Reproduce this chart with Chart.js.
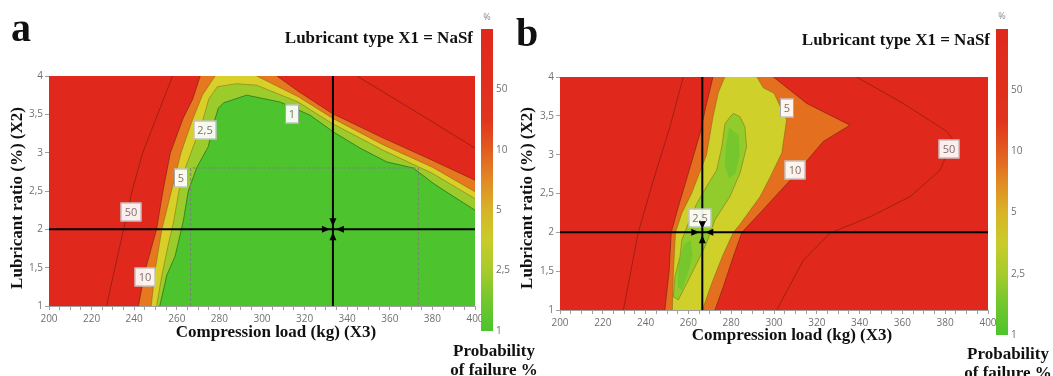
<!DOCTYPE html>
<html>
<head>
<meta charset="utf-8">
<script src="https://cdn.jsdelivr.net/npm/chart.js@4.4.1/dist/chart.umd.min.js"></script>
<style>
  body { margin: 0; width: 1053px; height: 376px; position: relative; overflow: hidden; background: #fff; }
  canvas { position: absolute; }
  .t { position: absolute; font-family: "Liberation Serif", "Times New Roman", serif; font-weight: bold; color: #111; white-space: nowrap; }
  .pct { position: absolute; font: 9px "Open Sans", sans-serif; color: #8a8a8a; transform: translateX(-50%); }
</style>
</head>
<body>
<canvas id="chartA" width="490" height="376" style="left:0;top:0"></canvas>
<canvas id="barA" width="45" height="340" style="left:478px;top:20px"></canvas>
<canvas id="chartB" width="490" height="376" style="left:510px;top:0"></canvas>
<canvas id="barB" width="60" height="340" style="left:993px;top:20px"></canvas>

<div class="t" style="left:11px;top:8px;font-size:40px;line-height:40px">a</div>
<div class="t" style="left:516px;top:13px;font-size:40px;line-height:40px">b</div>
<div class="t" style="right:580px;top:28px;font-size:17px;line-height:20px">Lubricant type X1 = NaSf</div>
<div class="t" style="right:63px;top:30px;font-size:17px;line-height:20px">Lubricant type X1 = NaSf</div>
<div class="t" style="left:17px;top:198px;font-size:17px;line-height:20px;transform:translate(-50%,-50%) rotate(-90deg)">Lubricant ratio (%) (X2)</div>
<div class="t" style="left:527px;top:198px;font-size:17px;line-height:20px;transform:translate(-50%,-50%) rotate(-90deg)">Lubricant ratio (%) (X2)</div>
<div class="t" style="left:276px;top:322px;font-size:17px;line-height:20px;transform:translateX(-50%)">Compression load (kg) (X3)</div>
<div class="t" style="left:792px;top:325px;font-size:17px;line-height:20px;transform:translateX(-50%)">Compression load (kg) (X3)</div>
<div class="t" style="left:494px;top:341px;font-size:17px;line-height:19px;text-align:center;transform:translateX(-50%)">Probability<br>of failure %</div>
<div class="t" style="left:1008px;top:344px;font-size:17px;line-height:19px;text-align:center;transform:translateX(-50%)">Probability<br>of failure %</div>
<div class="pct" style="left:487px;top:10px">%</div>
<div class="pct" style="left:1002px;top:9px">%</div>

<script>
// axes
const xRange = [200, 400];
const yRange = [1, 4];
const xMinorStep = 5;
const xTickLabels = [200, 220, 240, 260, 280, 300, 320, 340, 360, 380, 400];
const yTickLabels = ['1', '1,5', '2', '2,5', '3', '3,5', '4'];

// colour bar
const cbarLabels = ['1', '2,5', '5', '10', '50'];
const cbarPos = [0, 0.2, 0.4, 0.6, 0.8];

// panel a: iso-lines of probability of failure, [load kg, ratio %]
const aIso50L = [[227, 1], [231, 1.5], [235, 2], [239, 2.5], [244, 3], [251, 3.5], [258, 4]];
const aIso50R = [[344.5, 4], [372.5, 3.53], [400, 3.06]];
const aIso10L = [[242, 1], [245, 1.45], [250.5, 2], [253.5, 2.5], [257, 3], [263, 3.45], [267.5, 3.7], [271, 4]];
const aIso10R = [[307, 4], [317, 3.8], [333, 3.51], [357, 3.19], [380, 2.9], [400, 2.64]];
const aIso5L = [[248, 1], [250, 1.5], [253, 2], [257.5, 2.5], [262, 3], [267, 3.4], [272, 3.75], [278, 4]];
const aIso5R = [[297.5, 4], [317, 3.73], [333, 3.45], [357, 3.1], [380, 2.81], [400, 2.49]];
const aIso25 = [[250.5, 1], [253, 1.4], [256, 1.8], [258.5, 2.1], [261, 2.5], [264, 2.8], [268, 3.1], [272, 3.4], [275, 3.7],
  [279, 3.86], [288, 3.9], [297.5, 3.88], [317, 3.66], [333, 3.38], [357, 3.03], [380, 2.73], [400, 2.4]];
const aIso1 = [[252, 1], [255.3, 1.4], [259.2, 1.65], [263, 2.1], [265.4, 2.5], [269.3, 2.8], [274.8, 3.08], [277, 3.35],
  [279.5, 3.58], [282, 3.65], [292.8, 3.75], [308.5, 3.66], [322.5, 3.49], [333.5, 3.27], [346, 3.06], [358.5, 2.88],
  [371, 2.8], [380.4, 2.6], [389.8, 2.43], [400, 2.25]];
const aBox = [[266.5, 1], [266.5, 2.8], [373.4, 2.8], [373.4, 1]];
const aCross = [333.3, 2];
const aLabelText = ['50', '10', '5', '2,5', '1'];
const aLabelX = [238.5, 245.2, 261.8, 273.2, 314.2];
const aLabelY = [2.22, 1.38, 2.67, 3.29, 3.51];

// panel b
const bIso50L = [[229.6, 1], [236.6, 2], [243.6, 2.67], [251.4, 3.36], [257.6, 4]];
const bIso50R = [[338.6, 4], [360.4, 3.66], [380.7, 3.3], [383.6, 3.19], [377.6, 2.8], [363.6, 2.46], [344.9, 2.2],
  [326.2, 1.99], [313.7, 1.64], [301.3, 1]];
const bIso10L = [[249, 1], [251, 1.5], [252, 2], [255, 2.3], [259, 2.67], [265.4, 3.27], [268, 3.6], [271.5, 4]];
const bIso10R = [[299.7, 4], [315.3, 3.66], [335.5, 3.38], [323, 3.17], [307.5, 2.67], [293.5, 2.25], [285, 2],
  [281, 1.69], [276.3, 1.3], [272.4, 1]];
const bIso5L = [[252.5, 1], [253, 1.5], [254, 2], [257, 2.25], [261.5, 2.5], [265, 2.75], [268.5, 3], [271.6, 3.5], [274, 3.8], [277, 4]];
const bIso5R = [[292, 4], [295, 3.86], [300, 3.79], [305.9, 3.45], [303.6, 3.02], [298, 2.7], [293.5, 2.46], [284, 2.1],
  [281, 2], [276, 1.7], [271, 1.35], [266.5, 1]];
const bIso25 = [[280.2, 3.51], [277.1, 3.4], [275.6, 3.1], [273.2, 2.8], [268.5, 2.59], [263.9, 2.37], [260, 2.12],
  [256.9, 1.9], [256.1, 1.69], [253.7, 1.43], [253, 1.17], [255.3, 1.13], [259.2, 1.34], [263.9, 1.6], [268.5, 1.86],
  [272.4, 2.16], [279.4, 2.46], [284.1, 2.76], [287.2, 3.1], [286.4, 3.36], [284.1, 3.49], [281, 3.53]];
// brightest green spots inside the 2,5 iso-line
const bCoreUp = [[279, 3.35], [277.5, 3.1], [277, 2.85], [279, 2.7], [282, 2.75], [284, 3], [283.5, 3.25]];
const bCoreLow = [[255, 1.3], [255.5, 1.6], [258, 1.85], [261, 1.9], [262, 1.7], [259.5, 1.45], [257, 1.25]];
const bCross = [266.5, 2];
const bLabelText = ['2,5', '5', '10', '50'];
const bLabelX = [265.4, 305.9, 309.8, 381.9];
const bLabelY = [2.18, 3.6, 2.8, 3.07];

// colours
const RED = '#e0281d';
const cbarStops = [0, 0.1, 0.2, 0.3, 0.4, 0.5, 0.6, 0.7, 1];
const cbarColors = ['#4cc42e', '#72c72d', '#a6cb2c', '#c8cc2a', '#d8b427', '#e18a24', '#e25c20', '#e0341d', RED];
const lineRed = 'rgba(110,25,15,0.55)';
const lineMid = 'rgba(120,90,20,0.45)';
const lineGreen = 'rgba(40,110,30,0.75)';

const toPts = path => path.map(([x, y]) => ({ x, y }));
const corner = [[xRange[1], yRange[0]]];
const frame = [[xRange[0], yRange[0]], [xRange[1], yRange[0]], [xRange[1], yRange[1]], [xRange[0], yRange[1]]];

function area(path, color, order) {
  return { data: toPts(path), fill: 'shape', backgroundColor: color, borderColor: 'transparent', borderWidth: 0, pointRadius: 0, order };
}
function iso(path, color, order) {
  return { data: toPts(path), fill: false, borderColor: color, borderWidth: 1, pointRadius: 0, order };
}
function rule(path, color, width, dash, order) {
  return { data: toPts(path), fill: false, borderColor: color, borderWidth: width, borderDash: dash, pointRadius: 0, order };
}
function crossLines(c, order) {
  return [
    rule([[c[0], yRange[0]], [c[0], yRange[1]]], '#000', 2, [], order),
    rule([[xRange[0], c[1]], [xRange[1], c[1]]], '#000', 2, [], order)
  ];
}

// labels and crosshair arrows
const overlay = {
  id: 'overlay',
  afterDatasetsDraw(chart, args, opts) {
    const { ctx, scales: { x, y } } = chart;
    ctx.save();
    ctx.font = '11px "Open Sans", sans-serif';
    ctx.textAlign = 'center';
    ctx.textBaseline = 'middle';
    opts.text.forEach((t, i) => {
      const px = Math.round(x.getPixelForValue(opts.lx[i]));
      const py = Math.round(y.getPixelForValue(opts.ly[i]));
      const w = Math.round(ctx.measureText(t).width + 8), h = 19;
      ctx.fillStyle = 'rgba(255,255,255,0.92)';
      ctx.fillRect(px - w / 2, py - h / 2, w, h);
      ctx.strokeStyle = '#a8a8a8';
      ctx.lineWidth = 1;
      ctx.strokeRect(px - w / 2 + 0.5, py - h / 2 + 0.5, w - 1, h - 1);
      ctx.fillStyle = '#7f6f6f';
      ctx.fillText(t, px, py + 1);
    });
    const cx = x.getPixelForValue(opts.cross[0]);
    const cy = y.getPixelForValue(opts.cross[1]);
    ctx.fillStyle = '#000';
    [[0, -1], [0, 1], [-1, 0], [1, 0]].forEach(([dx, dy]) => {
      const tip = 3, base = 11, half = 3.5;
      ctx.beginPath();
      ctx.moveTo(cx + dx * tip, cy + dy * tip);
      ctx.lineTo(cx + dx * base + dy * half, cy + dy * base + dx * half);
      ctx.lineTo(cx + dx * base - dy * half, cy + dy * base - dx * half);
      ctx.closePath();
      ctx.fill();
    });
    ctx.restore();
  }
};

const tickFont = { family: '"Open Sans", sans-serif', size: 10 };

function makeChart(id, datasets, pad, yWidth, xHeight, ov) {
  return new Chart(document.getElementById(id), {
    type: 'line',
    data: { datasets },
    options: {
      responsive: false,
      animation: false,
      events: [],
      devicePixelRatio: 1,
      layout: { padding: pad },
      plugins: { legend: { display: false }, tooltip: { enabled: false }, overlay: ov },
      scales: {
        x: {
          type: 'linear', min: xRange[0], max: xRange[1],
          ticks: {
            stepSize: xMinorStep, autoSkip: false, maxRotation: 0, padding: 3, color: '#707070', font: tickFont,
            callback: v => xTickLabels.includes(v) ? String(v) : ''
          },
          grid: { drawOnChartArea: false, tickLength: 4, color: '#a0a0a0' },
          border: { color: '#a0a0a0' },
          afterFit: s => { s.height = xHeight; }
        },
        y: {
          type: 'linear', min: yRange[0], max: yRange[1],
          ticks: { stepSize: 0.5, padding: 2, color: '#707070', font: tickFont, callback: (v, i) => yTickLabels[i] },
          grid: { drawOnChartArea: false, tickLength: 4, color: '#a0a0a0' },
          border: { color: '#a0a0a0' },
          afterFit: s => { s.width = yWidth; }
        }
      }
    },
    plugins: [overlay]
  });
}

function makeBar(id, pad, axisWidth) {
  return new Chart(document.getElementById(id), {
    type: 'bar',
    data: {
      labels: [''],
      datasets: [{
        data: [1], barPercentage: 1, categoryPercentage: 1,
        backgroundColor: c => {
          const a = c.chart.chartArea;
          if (!a) return RED;
          const g = c.chart.ctx.createLinearGradient(0, a.bottom, 0, a.top);
          cbarStops.forEach((s, i) => g.addColorStop(s, cbarColors[i]));
          return g;
        }
      }]
    },
    options: {
      responsive: false, animation: false, events: [], devicePixelRatio: 1,
      layout: { padding: pad },
      plugins: { legend: { display: false }, tooltip: { enabled: false } },
      scales: {
        x: { display: false },
        y: {
          position: 'right', min: 0, max: 1,
          afterBuildTicks: s => { s.ticks = cbarPos.map(v => ({ value: v })); },
          ticks: { autoSkip: false, padding: 3, color: '#707070', font: tickFont, callback: (v, i) => cbarLabels[i] },
          grid: { display: false, drawTicks: false },
          border: { display: false },
          afterFit: s => { s.width = axisWidth; }
        }
      }
    }
  });
}

// panel a
makeChart('chartA', [
  area(frame, RED, 100),
  area(aIso10L.concat(aIso10R, corner), '#e6781f', 90),
  area(aIso5L.concat(aIso5R, corner), '#d8cf28', 80),
  area(aIso25.concat(corner), '#9ccb2c', 70),
  area(aIso1.concat(corner), '#4dc42e', 60),
  iso(aIso50L, lineRed, 30), iso(aIso50R, lineRed, 30),
  iso(aIso10L, lineRed, 30), iso(aIso10R, lineRed, 30),
  iso(aIso5L, lineMid, 30), iso(aIso5R, lineMid, 30),
  iso(aIso25, lineMid, 30), iso(aIso1, lineGreen, 30),
  rule(aBox, '#7e7e7e', 1, [3, 2], 20),
  ...crossLines(aCross, 10)
], { left: 0, right: 15, top: 76, bottom: 0 }, 49, 70,
  { text: aLabelText, lx: aLabelX, ly: aLabelY, cross: aCross });

// panel b
makeChart('chartB', [
  area(frame, RED, 100),
  area(bIso10L.concat(bIso10R), '#e4701f', 90),
  area(bIso5L.concat(bIso5R), '#cfd02a', 80),
  area(bIso25, '#92cb2c', 70),
  area(bCoreUp, '#76c72d', 65),
  area(bCoreLow, '#76c72d', 65),
  iso(bIso50L, lineRed, 30), iso(bIso50R, lineRed, 30),
  iso(bIso10L, lineRed, 30), iso(bIso10R, lineRed, 30),
  iso(bIso5L, lineMid, 30), iso(bIso5R, lineMid, 30),
  iso(bIso25.concat([bIso25[0]]), lineMid, 30),
  ...crossLines(bCross, 10)
], { left: 0, right: 12, top: 77, bottom: 0 }, 50, 66,
  { text: bLabelText, lx: bLabelX, ly: bLabelY, cross: bCross });

makeBar('barA', { left: 3, top: 6, bottom: 29, right: 0 }, 30);
makeBar('barB', { left: 3, top: 6, bottom: 25, right: 0 }, 45);
</script>
</body>
</html>
